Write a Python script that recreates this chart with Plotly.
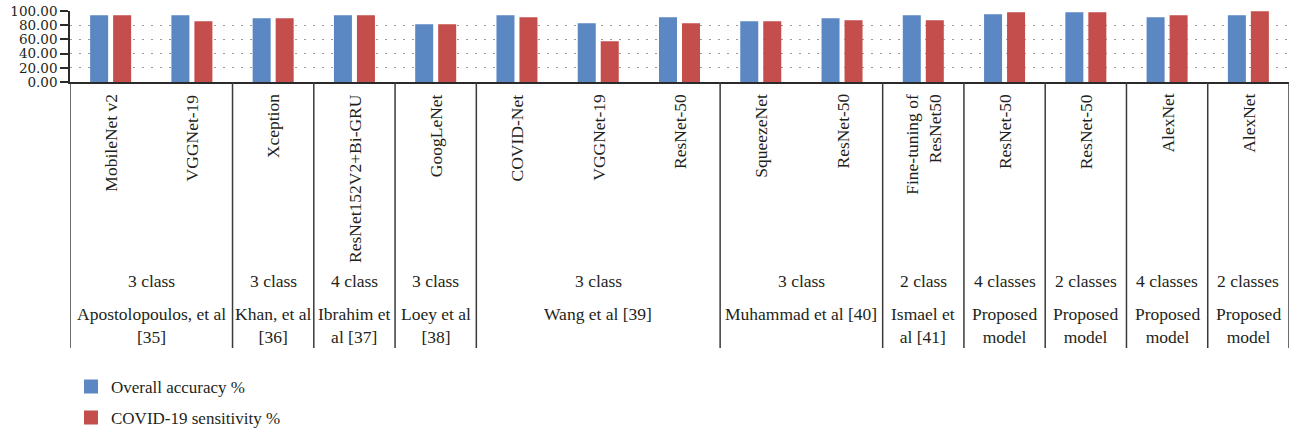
import plotly.graph_objects as go

# ---------------- data ----------------
models = ["MobileNet v2", "VGGNet-19", "Xception", "ResNet152V2+Bi-GRU", "GoogLeNet",
          "COVID-Net", "VGGNet-19", "ResNet-50", "SqueezeNet", "ResNet-50",
          "Fine-tuning of<br>ResNet50", "ResNet-50", "ResNet-50", "AlexNet", "AlexNet"]
overall_accuracy = [92.5, 92.5, 88.3, 92.5, 80.0, 92.5, 81.3, 89.7, 84.1, 88.3,
                    92.5, 93.9, 96.7, 89.7, 92.5]
covid_sensitivity = [92.5, 84.1, 88.3, 92.5, 80.0, 89.7, 56.1, 81.3, 84.1, 85.5,
                     85.5, 96.7, 96.7, 92.5, 98.1]
class_labels = ["3 class", "3 class", "4 class", "3 class", "3 class", "3 class",
                "2 class", "4 classes", "2 classes", "4 classes", "2 classes"]
class_sizes = [2, 1, 1, 1, 3, 2, 1, 1, 1, 1, 1]
author_labels = ["Apostolopoulos, et al<br>[35]", "Khan, et al<br>[36]", "Ibrahim et<br>al [37]",
                 "Loey et al<br>[38]", "Wang et al [39]", "Muhammad et al [40]",
                 "Ismael et<br>al [41]", "Proposed<br>model", "Proposed<br>model",
                 "Proposed<br>model", "Proposed<br>model"]
author_sizes = [2, 1, 1, 1, 3, 2, 1, 1, 1, 1, 1]
y_ticks = [0, 20, 40, 60, 80, 100]
series_names = ["Overall accuracy %", "COVID-19 sensitivity %"]

# ---------------- layout constants ----------------
W, H = 1298, 434
ML, MR, MT, MB = 70, 9, 11, 352
PH = H - MT - MB              # plot height in px
FONT = "Liberation Serif, Times New Roman, serif"
TICKFONT = "DejaVu Serif, Liberation Serif, serif"
TXT = "#231f20"
BLUE = "#5b87c3"
RED = "#c44e4b"


def py2paper(py):
    """page pixel row -> paper y"""
    return (H - MB - py) / PH


def py2cont(py):
    """page pixel row -> container y"""
    return 1 - py / H


idx = list(range(len(models)))

fig = go.Figure()
fig.add_trace(go.Bar(x=idx, y=overall_accuracy, name=series_names[0],
                     marker=dict(color=BLUE, line=dict(width=2, color=BLUE)), legend="legend"))
fig.add_trace(go.Bar(x=idx, y=covid_sensitivity, name=series_names[1],
                     marker=dict(color=RED, line=dict(width=2, color=RED)), legend="legend2"))

annotations = []
shapes = []

# model labels (rotated)
for i, m in enumerate(models):
    annotations.append(dict(x=i, xref="x", y=py2paper(92), yref="paper",
                            text=m, textangle=-90, showarrow=False,
                            xanchor="center", yanchor="top", align="right",
                            font=dict(family=FONT, size=17.5, color=TXT)))

# class labels
pos = 0
for lab, n in zip(class_labels, class_sizes):
    c = pos + (n - 1) / 2
    annotations.append(dict(x=c, xref="x", y=py2paper(281), yref="paper",
                            text=lab, showarrow=False, xanchor="center", yanchor="middle",
                            font=dict(family=FONT, size=17.5, color=TXT)))
    pos += n

# author labels + dividers
pos = 0
dividers = [-0.5]
for lab, n in zip(author_labels, author_sizes):
    c = pos + (n - 1) / 2
    annotations.append(dict(x=c, xref="x", y=py2paper(302), yref="paper",
                            text=lab, showarrow=False, xanchor="center", yanchor="top",
                            align="center",
                            font=dict(family=FONT, size=17.5, color=TXT)))
    pos += n
    dividers.append(pos - 0.5)

for d in dividers:
    shapes.append(dict(type="line", xref="x", yref="paper", x0=d, x1=d,
                       y0=0, y1=py2paper(348), line=dict(color="#3a3a3a", width=1.5)))

legend_common = dict(xref="container", x=71 / W, yref="container",
                     xanchor="left", yanchor="middle", bgcolor="rgba(0,0,0,0)",
                     font=dict(family=FONT, size=17, color=TXT))

fig.update_layout(
    width=W, height=H,
    margin=dict(l=ML, r=MR, t=MT, b=MB, autoexpand=False),
    paper_bgcolor="white", plot_bgcolor="white",
    barmode="group", bargap=0.434, bargroupgap=0.304,
    font=dict(family=FONT, size=17, color=TXT),
    xaxis=dict(range=[-0.5, len(models) - 0.5], showticklabels=False, showgrid=False,
               zeroline=False, showline=True, linecolor="#2a2a2a", linewidth=1.5,
               ticks=""),
    yaxis=dict(range=[0, 100], tickvals=y_ticks, ticktext=[f"{v:.2f}" for v in y_ticks],
               showgrid=True, gridcolor="#9a9a9a", gridwidth=1, griddash="2px,7px",
               zeroline=False, showline=True, linecolor="#2a2a2a", linewidth=1.5,
               ticks="outside", ticklen=8, tickwidth=1.5, tickcolor="#2a2a2a",
               ticklabeloverflow="allow", ticklabelstandoff=0,
               tickfont=dict(family=TICKFONT, size=13.5, color=TXT)),
    showlegend=True,
    legend=dict(y=py2cont(387), **legend_common),
    legend2=dict(y=py2cont(418), **legend_common),
    annotations=annotations,
    shapes=shapes,
)

fig.write_html("out.html",
               config={"displayModeBar": False},
               post_script="document.body.style.margin='0';document.body.style.overflow='hidden';")
